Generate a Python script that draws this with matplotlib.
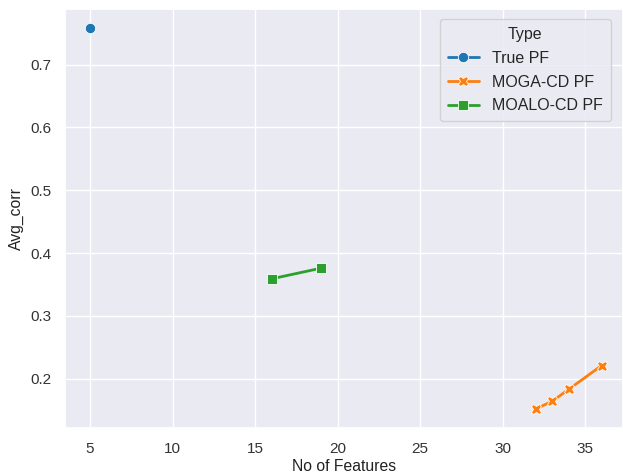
import matplotlib
matplotlib.use("Agg")
import matplotlib.pyplot as plt
import seaborn as sns
import pandas as pd

# Pareto-front points per method
types = ["True PF", "MOGA-CD PF", "MOGA-CD PF", "MOGA-CD PF", "MOGA-CD PF",
         "MOALO-CD PF", "MOALO-CD PF"]
n_features = [5, 32, 33, 34, 36, 16, 19]
avg_corr = [0.758, 0.152, 0.164, 0.183, 0.221, 0.359, 0.376]
palette = ["#1f77b4", "#ff7f0e", "#2ca02c"]
marker_shapes = ["o", "X", "s"]

df = pd.DataFrame({"No of Features": n_features, "Avg_corr": avg_corr, "Type": types})

sns.set_theme(style="darkgrid")
plt.rcParams["font.family"] = ["Liberation Sans", "DejaVu Sans"]

fig = plt.figure(figsize=(6.23, 4.74), dpi=100)
ax = fig.add_axes([65 / 623, 1 - 428 / 474, (623 - 65) / 623, (428 - 9) / 474])

sns.lineplot(data=df, x="No of Features", y="Avg_corr", hue="Type", style="Type",
             markers=marker_shapes, dashes=False, palette=palette, ax=ax,
             linewidth=2.0, markersize=7.5, markeredgewidth=0.6)

ax.set_xlim(3.48, 37.3)
ax.tick_params(labelsize=11, colors="#333333", pad=4)
ax.set_xlabel("No of Features", fontsize=11.3, color="#222222", labelpad=2)
ax.set_ylabel("Avg_corr", fontsize=11.3, color="#222222", labelpad=4)
leg = ax.legend(title="Type", loc="upper right", fontsize=11.5, title_fontsize=11.5,
                bbox_to_anchor=(0.993, 0.995), borderpad=0.5, labelspacing=0.55)

fig.savefig("out.png", dpi=100)
